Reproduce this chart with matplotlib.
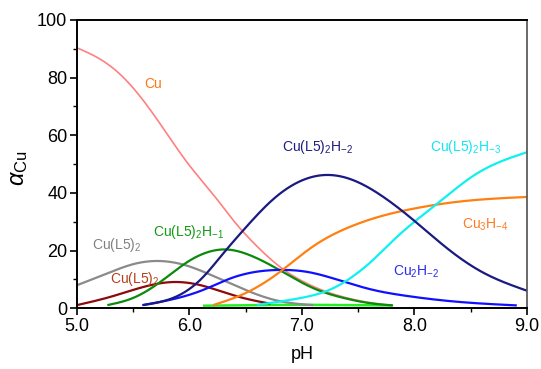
import numpy as np
import matplotlib
matplotlib.use("Agg")
import matplotlib.pyplot as plt
from matplotlib.ticker import MultipleLocator

plt.rcParams['font.family'] = ['Liberation Sans', 'DejaVu Sans']
plt.rcParams['mathtext.fontset'] = 'custom'
plt.rcParams['mathtext.rm'] = 'Liberation Sans'
plt.rcParams['mathtext.it'] = 'Liberation Sans:italic'
plt.rcParams['mathtext.bf'] = 'Liberation Sans:bold'

# ---- data ----
ph_cu = [5.0, 5.2, 5.4, 5.6, 5.8, 6.0, 6.2, 6.4, 6.6, 6.8, 7.0, 7.2, 7.4, 7.6, 7.75]
a_cu = [90.3, 86.5, 80.5, 71.5, 60.5, 49.5, 40.0, 30.0, 21.5, 14.5, 9.5, 6.0, 3.6, 2.0, 1.2]

ph_cul5 = [5.0, 5.3, 5.6, 5.85, 6.1, 6.35, 6.55, 6.72]
a_cul5 = [1.1, 4.0, 7.5, 9.1, 8.0, 5.0, 2.9, 1.6]

ph_cul52 = [5.0, 5.25, 5.5, 5.73, 6.0, 6.2, 6.4, 6.6, 6.8, 7.1]
a_cul52 = [8.0, 11.8, 15.3, 16.4, 14.5, 11.4, 8.0, 4.8, 2.5, 1.1]

ph_h1 = [5.27, 5.5, 5.75, 6.0, 6.15, 6.32, 6.55, 6.83, 7.1, 7.38, 7.6, 7.81]
a_h1 = [1.1, 3.6, 9.4, 16.5, 19.3, 20.4, 18.2, 12.6, 7.0, 3.5, 1.8, 1.0]

ph_h2 = [5.59, 5.89, 6.1, 6.3, 6.5, 6.75, 6.97, 7.2, 7.45, 7.72, 8.0, 8.3, 8.6, 9.0]
a_h2 = [1.1, 4.2, 10.0, 19.0, 28.0, 38.0, 43.8, 46.2, 44.5, 38.7, 30.3, 20.5, 12.6, 6.1]

ph_cu2h2 = [5.58, 5.89, 6.13, 6.36, 6.6, 6.8, 7.05, 7.35, 7.63, 7.93, 8.37, 8.91]
a_cu2h2 = [1.1, 3.5, 6.5, 10.3, 12.7, 13.3, 12.6, 9.5, 6.4, 4.3, 2.3, 1.0]

ph_cu3h4 = [6.21, 6.5, 6.8, 7.1, 7.4, 7.7, 8.0, 8.4, 9.0]
a_cu3h4 = [1.1, 5.3, 12.5, 21.5, 27.8, 31.9, 34.6, 37.0, 38.6]

ph_h3 = [6.6, 6.98, 7.28, 7.45, 7.63, 7.81, 8.0, 8.2, 8.55, 9.0]
a_h3 = [1.2, 3.5, 7.0, 11.0, 16.7, 23.5, 30.0, 36.2, 46.6, 54.1]

ph_lime = [6.12, 6.6, 7.0, 7.4, 7.8]
a_lime = [0.9, 1.1, 1.2, 1.1, 1.0]

x_ticks = [5.0, 6.0, 7.0, 8.0, 9.0]
x_ticklabels = ["5.0", "6.0", "7.0", "8.0", "9.0"]
y_ticks = [0, 20, 40, 60, 80, 100]

labels = ["Cu", "Cu(L5)$_\\mathrm{2}$", "Cu(L5)$_\\mathrm{2}$H$_\\mathrm{-1}$",
          "Cu(L5)$_\\mathrm{2}$H$_\\mathrm{-2}$", "Cu(L5)$_\\mathrm{2}$H$_\\mathrm{-3}$",
          "Cu$_\\mathrm{3}$H$_\\mathrm{-4}$", "Cu$_\\mathrm{2}$H$_\\mathrm{-2}$",
          "Cu(L5)$_\\mathrm{2}$"]
label_ph = [5.6, 5.13, 5.68, 6.82, 8.14, 8.42, 7.81, 5.29]
label_a = [77.7, 21.9, 26.4, 55.9, 55.9, 28.9, 12.6, 10.2]
label_colors = ["#ff7410", "#808080", "#129a12", "#1c1c84", "#11e6f0",
                "#ff7a20", "#2a2af0", "#b4401c"]

fig = plt.figure(figsize=(5.41, 3.69), dpi=100)
ax = fig.add_axes([0.1423, 0.1645, 0.8317, 0.7818])


def spline(xs, ys, n=300):
    """Natural cubic spline through the read points."""
    xs = np.asarray(xs, float)
    ys = np.asarray(ys, float)
    k = len(xs)
    h = np.diff(xs)
    A = np.zeros((k, k))
    b = np.zeros(k)
    A[0, 0] = A[-1, -1] = 1.0
    for i in range(1, k - 1):
        A[i, i - 1] = h[i - 1]
        A[i, i] = 2 * (h[i - 1] + h[i])
        A[i, i + 1] = h[i]
        b[i] = 6 * ((ys[i + 1] - ys[i]) / h[i] - (ys[i] - ys[i - 1]) / h[i - 1])
    M = np.linalg.solve(A, b)
    t = np.linspace(xs[0], xs[-1], n)
    idx = np.clip(np.searchsorted(xs, t) - 1, 0, k - 2)
    x0, x1 = xs[idx], xs[idx + 1]
    hh = x1 - x0
    y = (M[idx] * (x1 - t) ** 3 / (6 * hh) + M[idx + 1] * (t - x0) ** 3 / (6 * hh)
         + (ys[idx] / hh - M[idx] * hh / 6) * (x1 - t)
         + (ys[idx + 1] / hh - M[idx + 1] * hh / 6) * (t - x0))
    return t, y


series = [
    (ph_lime, a_lime, "#22ee22", 1.8),
    (ph_cu, a_cu, "#ff8080", 1.2),
    (ph_cul5, a_cul5, "#8b0a0a", 1.6),
    (ph_cul52, a_cul52, "#8a8a8a", 1.6),
    (ph_h1, a_h1, "#0a8a0a", 1.6),
    (ph_cu2h2, a_cu2h2, "#1010ff", 1.6),
    (ph_cu3h4, a_cu3h4, "#ff8010", 1.6),
    (ph_h3, a_h3, "#10f0f0", 1.6),
    (ph_h2, a_h2, "#1a1a80", 1.6),
]
for xs, ys, c, lw in series:
    t, y = spline(xs, ys)
    ax.plot(t, y, color=c, lw=lw, solid_capstyle='butt')

for txt, px, py, c in zip(labels, label_ph, label_a, label_colors):
    ax.text(px, py, txt, color=c, fontsize=10, ha='left', va='center')

ax.set_xlim(5.0, 9.0)
ax.set_ylim(0, 100)
ax.set_xticks(x_ticks)
ax.set_xticklabels(x_ticklabels)
ax.set_yticks(y_ticks)
ax.xaxis.set_minor_locator(MultipleLocator(0.5))
ax.yaxis.set_minor_locator(MultipleLocator(10))
ax.tick_params(which='major', direction='out', length=5, width=1.2, labelsize=13, pad=2,
               top=False, right=False)
ax.tick_params(which='minor', direction='out', length=3, width=1.0, top=False, right=False)

for side in ['left', 'bottom', 'top']:
    ax.spines[side].set_color('black')
    ax.spines[side].set_linewidth(1.4)
ax.spines['right'].set_color('#505050')
ax.spines['right'].set_linewidth(1.2)

ax.set_xlabel("pH", fontsize=13, labelpad=8)
fig.text(0.035, 0.545, "$\\alpha_{\\mathrm{Cu}}$", rotation=90, fontsize=17,
         ha='center', va='center')

fig.savefig("out.png", dpi=100)
